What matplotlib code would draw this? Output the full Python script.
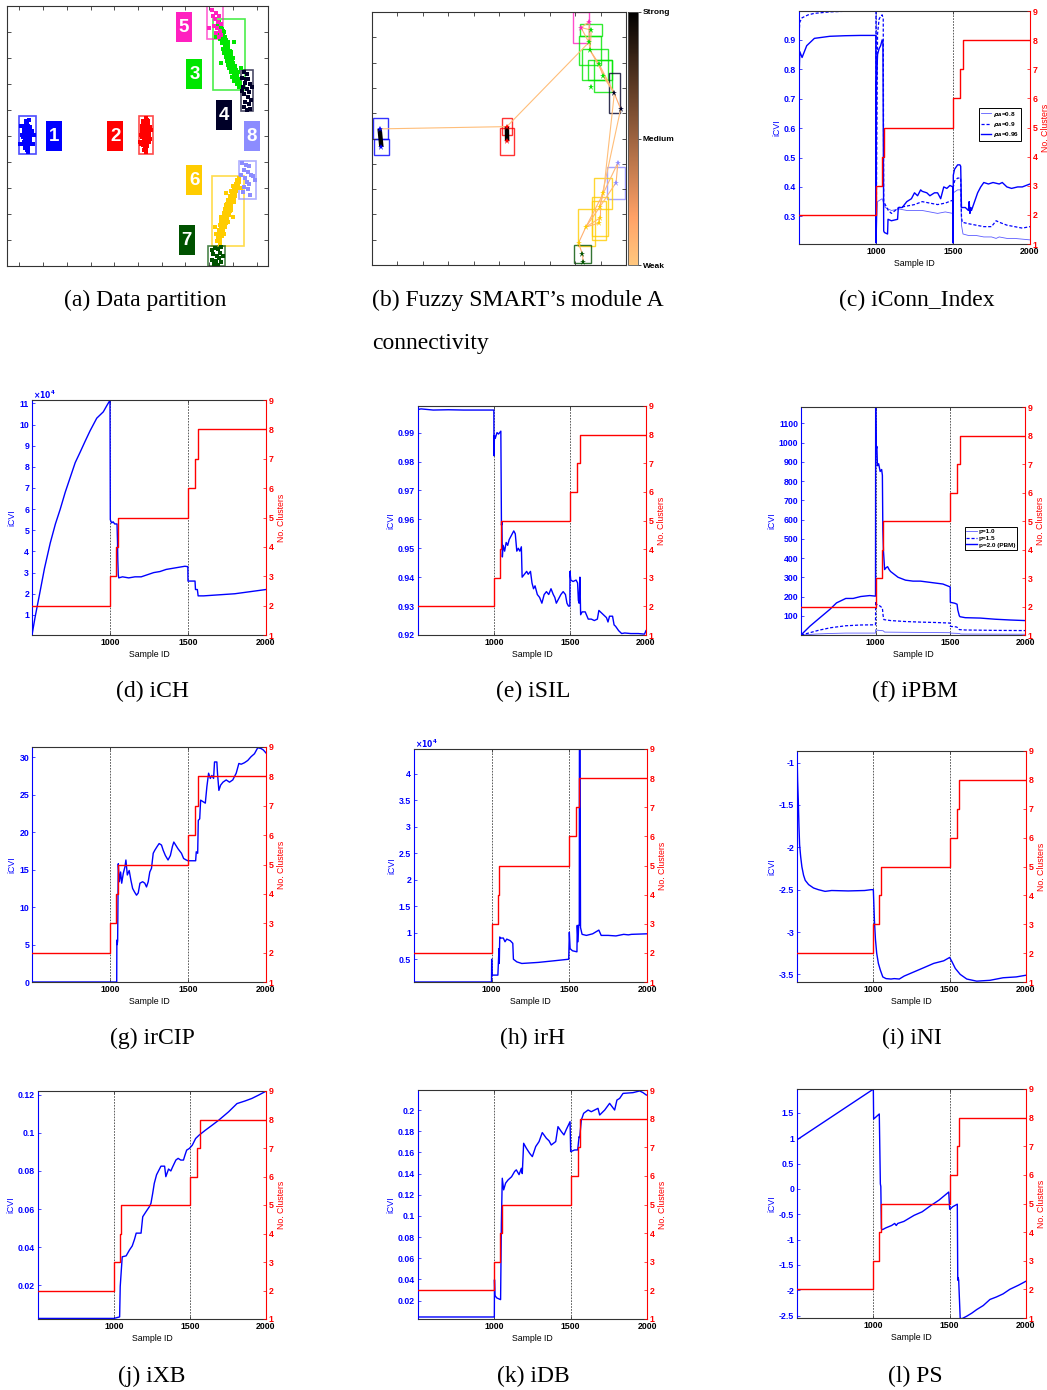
import numpy as np
import matplotlib
matplotlib.use('Agg')
import matplotlib.pyplot as plt
from matplotlib.patches import Rectangle
from matplotlib.lines import Line2D

W, H = 1047, 1390
plt.rcParams['font.family'] = ['Liberation Sans', 'DejaVu Sans']
plt.rcParams['font.weight'] = 'bold'

BLUE = '#0000ff'
RED = '#ff0000'
EDGE = '#333333'

# ---------------- cluster count (shared by every iCVI panel) ----------------
clusters_x = [500, 1000, 1040, 1049, 1500, 1545, 1564, 2000]
clusters_n = [2, 3, 4, 5, 6, 7, 8, 8]

# ---------------- (a) data partition ----------------
pts_c1 = [(0.030, 0.500), (0.036, 0.515), (0.024, 0.488), (0.041, 0.506), (0.028, 0.530),
          (0.033, 0.472), (0.019, 0.512), (0.045, 0.494), (0.038, 0.540), (0.026, 0.460),
          (0.031, 0.522), (0.022, 0.538), (0.043, 0.520), (0.035, 0.480), (0.029, 0.548),
          (0.016, 0.495), (0.048, 0.508), (0.033, 0.458), (0.025, 0.504), (0.039, 0.468),
          (0.027, 0.476), (0.034, 0.552), (0.021, 0.526), (0.044, 0.478), (0.031, 0.490),
          (0.037, 0.492), (0.018, 0.478), (0.028, 0.512), (0.040, 0.530), (0.023, 0.500),
          (0.035, 0.500), (0.030, 0.465), (0.046, 0.535), (0.020, 0.470), (0.032, 0.530),
          (0.038, 0.455), (0.012, 0.505), (0.052, 0.520), (0.027, 0.545), (0.034, 0.448),
          (0.008, 0.540), (0.058, 0.470), (0.040, 0.560), (0.024, 0.452), (0.030, 0.556),
          (0.062, 0.505), (0.004, 0.470), (0.036, 0.440)]
pts_c2 = [(0.532, 0.505), (0.526, 0.520), (0.540, 0.490), (0.520, 0.510), (0.536, 0.535),
          (0.529, 0.470), (0.545, 0.515), (0.515, 0.495), (0.533, 0.548), (0.524, 0.480),
          (0.538, 0.462), (0.528, 0.540), (0.548, 0.500), (0.519, 0.528), (0.535, 0.485),
          (0.531, 0.558), (0.542, 0.530), (0.522, 0.465), (0.530, 0.512), (0.537, 0.475),
          (0.525, 0.500), (0.543, 0.545), (0.517, 0.518), (0.534, 0.455), (0.527, 0.492),
          (0.539, 0.502), (0.521, 0.548), (0.546, 0.478), (0.531, 0.525), (0.528, 0.460),
          (0.512, 0.505), (0.552, 0.488), (0.535, 0.568), (0.518, 0.538), (0.541, 0.558),
          (0.508, 0.478), (0.556, 0.522), (0.526, 0.448), (0.534, 0.440), (0.523, 0.556),
          (0.549, 0.535), (0.514, 0.468), (0.533, 0.475), (0.540, 0.560)]
pts_c3 = [(0.838, 0.935), (0.852, 0.928), (0.845, 0.920), (0.848, 0.915), (0.834, 0.918),
          (0.860, 0.905), (0.850, 0.905), (0.858, 0.892), (0.842, 0.898), (0.852, 0.885),
          (0.866, 0.880), (0.846, 0.872), (0.858, 0.878), (0.872, 0.868), (0.862, 0.860),
          (0.856, 0.856), (0.870, 0.850), (0.878, 0.862), (0.866, 0.845), (0.880, 0.838),
          (0.860, 0.835), (0.872, 0.830), (0.886, 0.826), (0.864, 0.818), (0.876, 0.815),
          (0.890, 0.810), (0.870, 0.802), (0.882, 0.800), (0.894, 0.792), (0.874, 0.788),
          (0.886, 0.786), (0.900, 0.780), (0.880, 0.772), (0.892, 0.772), (0.906, 0.768),
          (0.884, 0.760), (0.896, 0.758), (0.912, 0.752), (0.890, 0.745), (0.904, 0.740),
          (0.918, 0.735), (0.898, 0.728), (0.912, 0.725), (0.926, 0.718), (0.906, 0.712),
          (0.920, 0.710), (0.932, 0.704), (0.916, 0.700), (0.830, 0.880), (0.905, 0.860),
          (0.850, 0.780), (0.935, 0.760), (0.842, 0.940), (0.925, 0.690), (0.864, 0.900),
          (0.878, 0.845), (0.892, 0.825), (0.900, 0.800), (0.910, 0.770), (0.922, 0.745),
          (0.844, 0.930), (0.856, 0.912), (0.862, 0.872), (0.874, 0.855), (0.884, 0.812),
          (0.896, 0.792), (0.908, 0.755), (0.918, 0.722), (0.868, 0.828), (0.880, 0.785)]
pts_c4 = [(0.945, 0.745), (0.958, 0.738), (0.940, 0.725), (0.962, 0.718), (0.950, 0.705),
          (0.972, 0.700), (0.944, 0.690), (0.958, 0.680), (0.968, 0.668), (0.948, 0.660),
          (0.962, 0.650), (0.975, 0.640), (0.952, 0.632), (0.966, 0.622), (0.945, 0.612),
          (0.972, 0.605), (0.938, 0.675), (0.980, 0.690), (0.955, 0.720), (0.960, 0.600)]
pts_c5 = [(0.812, 0.985), (0.830, 0.975), (0.842, 0.962), (0.825, 0.950), (0.838, 0.940),
          (0.850, 0.930), (0.820, 0.925), (0.835, 0.915), (0.845, 0.905), (0.828, 0.895),
          (0.852, 0.890), (0.800, 0.915), (0.840, 0.880), (0.818, 0.960)]
pts_c6 = [(0.832, 0.095), (0.846, 0.100), (0.838, 0.112), (0.842, 0.118), (0.856, 0.115),
          (0.830, 0.125), (0.848, 0.130), (0.860, 0.135), (0.840, 0.140), (0.852, 0.148),
          (0.866, 0.150), (0.846, 0.158), (0.858, 0.162), (0.872, 0.165), (0.852, 0.172),
          (0.862, 0.178), (0.876, 0.182), (0.856, 0.188), (0.868, 0.192), (0.882, 0.198),
          (0.862, 0.205), (0.874, 0.210), (0.888, 0.212), (0.868, 0.220), (0.878, 0.225),
          (0.892, 0.230), (0.874, 0.238), (0.884, 0.242), (0.898, 0.246), (0.880, 0.255),
          (0.890, 0.258), (0.904, 0.262), (0.886, 0.270), (0.896, 0.275), (0.910, 0.280),
          (0.894, 0.290), (0.904, 0.295), (0.916, 0.300), (0.900, 0.308), (0.912, 0.315),
          (0.924, 0.322), (0.918, 0.332), (0.826, 0.150), (0.900, 0.190), (0.870, 0.280),
          (0.935, 0.300), (0.845, 0.085), (0.925, 0.340), (0.850, 0.190), (0.864, 0.125),
          (0.880, 0.170), (0.894, 0.215), (0.906, 0.245), (0.914, 0.290), (0.870, 0.235),
          (0.836, 0.102), (0.850, 0.140), (0.858, 0.150), (0.866, 0.198), (0.876, 0.205),
          (0.888, 0.235), (0.896, 0.262), (0.908, 0.270), (0.920, 0.308), (0.840, 0.128)]
pts_c7 = [(0.810, 0.060), (0.825, 0.070), (0.838, 0.065), (0.850, 0.072), (0.818, 0.045),
          (0.832, 0.040), (0.845, 0.050), (0.858, 0.040), (0.812, 0.025), (0.828, 0.020),
          (0.840, 0.030), (0.852, 0.015), (0.822, 0.008), (0.836, 0.005)]
pts_c8 = [(0.940, 0.395), (0.955, 0.390), (0.968, 0.385), (0.945, 0.370), (0.962, 0.360),
          (0.975, 0.350), (0.950, 0.340), (0.985, 0.345), (0.958, 0.325), (0.970, 0.315),
          (0.948, 0.305), (0.965, 0.295), (0.942, 0.285), (0.972, 0.275), (0.995, 0.330),
          (0.935, 0.350)]
cluster_colors = ['#0000ff', '#ff0000', '#00e600', '#000028', '#ff20c0', '#ffcc00', '#005200', '#8c8cff']
cluster_boxes = [(0.000, 0.429, 0.071, 0.577), (0.503, 0.431, 0.564, 0.578),
                 (0.816, 0.678, 0.951, 0.949), (0.933, 0.596, 0.985, 0.753),
                 (0.790, 0.872, 0.858, 0.999), (0.812, 0.077, 0.947, 0.345),
                 (0.795, 0.001, 0.867, 0.077), (0.927, 0.258, 0.999, 0.405)]
label_centres = [(0.1465, 0.499), (0.4035, 0.499), (0.7375, 0.737), (0.861, 0.5795),
                 (0.6925, 0.918), (0.7375, 0.3305), (0.705, 0.0985), (0.9795, 0.499)]

# ---------------- (b) module A connectivity ----------------
b_boxes = [(0.003, 0.497, 0.062, 0.580, 0), (0.007, 0.433, 0.068, 0.497, 0),
           (0.510, 0.515, 0.551, 0.582, 1), (0.505, 0.435, 0.561, 0.542, 1),
           (0.791, 0.877, 0.854, 1.000, 4), (0.820, 0.904, 0.905, 0.952, 2),
           (0.816, 0.792, 0.903, 0.905, 2), (0.825, 0.731, 0.930, 0.854, 2),
           (0.850, 0.732, 0.946, 0.811, 2), (0.875, 0.683, 0.946, 0.810, 2),
           (0.932, 0.599, 0.978, 0.757, 3), (0.926, 0.260, 0.997, 0.389, 7),
           (0.875, 0.220, 0.946, 0.344, 5), (0.866, 0.115, 0.928, 0.268, 5),
           (0.865, 0.099, 0.922, 0.252, 5), (0.812, 0.077, 0.876, 0.220, 5),
           (0.794, 0.007, 0.863, 0.078, 6)]
b_star_x = [0.030, 0.037, 0.531, 0.532, 0.823, 0.855, 0.863, 0.854, 0.859, 0.894,
            0.909, 0.863, 0.954, 0.979, 0.968, 0.961, 0.911, 0.896, 0.896, 0.895,
            0.842, 0.813, 0.828, 0.832]
b_star_y = [0.538, 0.466, 0.547, 0.489, 0.938, 0.962, 0.929, 0.880, 0.848, 0.794,
            0.748, 0.704, 0.678, 0.617, 0.404, 0.326, 0.284, 0.228, 0.185, 0.166,
            0.150, 0.087, 0.044, 0.011]
b_star_cluster = [0, 0, 1, 1, 4, 4, 2, 2, 2, 2, 2, 2, 3, 3, 7, 7, 5, 5, 5, 5, 5, 5, 6, 6]
b_edges = [(0, 1, 1.0), (2, 3, 1.0), (0, 2, 0.05), (2, 7, 0.05),
           (4, 5, 0.10), (4, 6, 0.10), (4, 7, 0.10), (5, 7, 0.10), (6, 8, 0.10),
           (7, 8, 0.10), (8, 9, 0.15), (9, 10, 0.12), (8, 12, 0.10), (10, 12, 0.10),
           (12, 13, 0.15), (9, 12, 0.08), (12, 16, 0.05), (13, 17, 0.05),
           (14, 16, 0.08), (14, 15, 0.10), (15, 17, 0.08), (16, 17, 0.10),
           (17, 18, 0.10), (18, 19, 0.10), (16, 20, 0.10), (19, 20, 0.10),
           (17, 20, 0.10), (20, 21, 0.12), (21, 22, 0.15), (22, 23, 0.15), (18, 20, 0.08)]

# ---------------- (c) iConn_Index ----------------
conn96_x = [500, 502, 505, 520, 550, 600, 700, 800, 900, 999,
            1000, 1003, 1010, 1020, 1030, 1040, 1045, 1050, 1055, 1075,
            1078, 1100, 1140, 1145, 1170, 1200, 1230, 1250, 1270, 1290,
            1300, 1330, 1350, 1380, 1400, 1420, 1440, 1460, 1480, 1499,
            1500, 1502, 1510, 1530, 1545, 1550, 1555, 1580, 1600, 1605,
            1610, 1615, 1620, 1640, 1660, 1680, 1700, 1730, 1760, 1800,
            1820, 1850, 1880, 1920, 1950, 2000]
conn96_y = [0.21, 0.80, 0.86, 0.84, 0.88, 0.905, 0.912, 0.914, 0.915, 0.915,
            0.21, 0.75, 0.85, 0.87, 0.88, 0.90, 0.89, 0.25, 0.245, 0.24,
            0.29, 0.285, 0.29, 0.33, 0.33, 0.35, 0.36, 0.38, 0.37, 0.39,
            0.385, 0.38, 0.37, 0.38, 0.38, 0.36, 0.40, 0.395, 0.405, 0.40,
            0.21, 0.44, 0.46, 0.475, 0.475, 0.47, 0.33, 0.33, 0.32, 0.35,
            0.31, 0.33, 0.32, 0.35, 0.38, 0.40, 0.415, 0.41, 0.415, 0.41,
            0.415, 0.40, 0.395, 0.40, 0.40, 0.41]
conn90_x = [500, 502, 505, 520, 560, 600, 700, 800, 1000, 1001,
            1010, 1020, 1030, 1040, 1047, 1050, 1060, 1080, 1100, 1150,
            1200, 1250, 1300, 1350, 1400, 1450, 1499, 1500, 1502, 1510,
            1530, 1550, 1555, 1560, 1600, 1650, 1700, 1750, 1780, 1800,
            1850, 1900, 1950, 2000]
conn90_y = [0.21, 0.93, 0.96, 0.975, 0.985, 0.99, 0.995, 0.997, 0.997, 0.21,
            0.92, 0.97, 0.98, 0.985, 0.97, 0.35, 0.34, 0.32, 0.31, 0.33,
            0.335, 0.34, 0.35, 0.345, 0.34, 0.345, 0.355, 0.21, 0.40, 0.42,
            0.43, 0.43, 0.30, 0.28, 0.275, 0.27, 0.265, 0.265, 0.285, 0.28,
            0.27, 0.265, 0.26, 0.265]
conn80_x = [500, 502, 1000, 1001, 1010, 1040, 1050, 1060, 1100, 1150,
            1200, 1300, 1400, 1450, 1499, 1500, 1502, 1530, 1550, 1555,
            1565, 1600, 1650, 1700, 1750, 1780, 1800, 1850, 1900, 2000]
conn80_y = [0.21, 0.997, 0.997, 0.21, 0.35, 0.36, 0.345, 0.33, 0.32, 0.325,
            0.32, 0.32, 0.31, 0.315, 0.31, 0.21, 0.38, 0.39, 0.39, 0.27,
            0.24, 0.235, 0.235, 0.23, 0.23, 0.225, 0.23, 0.225, 0.225, 0.22]

# ---------------- (d) iCH (x10^4) ----------------
ch_x = [500, 520, 549, 580, 617, 650, 681, 713, 745, 777,
        809, 840, 872, 915, 957, 980, 1000, 1002, 1010, 1020,
        1030, 1045, 1048, 1050, 1053, 1056, 1080, 1120, 1160, 1200,
        1240, 1280, 1320, 1360, 1400, 1440, 1480, 1499, 1500, 1545,
        1548, 1560, 1565, 1600, 1700, 1800, 1900, 2000]
ch_y = [0.05, 0.9, 2.0, 3.2, 4.4, 5.3, 6.0, 6.8, 7.5, 8.2,
        8.7, 9.2, 9.7, 10.3, 10.6, 10.9, 11.15, 5.5, 5.35, 5.4,
        5.3, 5.3, 4.5, 3.6, 2.9, 2.75, 2.8, 2.75, 2.8, 2.8,
        2.9, 3.0, 3.05, 3.15, 3.2, 3.25, 3.3, 3.28, 2.6, 2.6,
        2.2, 2.2, 1.9, 1.9, 1.95, 2.0, 2.1, 2.2]

# ---------------- (e) iSIL ----------------
sil_x = [500, 501, 520, 600, 700, 800, 900, 999, 1000, 1003,
         1008, 1020, 1030, 1045, 1049, 1052, 1055, 1060, 1070, 1080,
         1090, 1100, 1110, 1120, 1130, 1140, 1150, 1160, 1170, 1180,
         1185, 1200, 1215, 1225, 1240, 1250, 1260, 1270, 1285, 1300,
         1315, 1330, 1345, 1360, 1375, 1390, 1400, 1410, 1420, 1440,
         1455, 1470, 1480, 1490, 1499, 1500, 1505, 1520, 1540, 1550,
         1555, 1560, 1565, 1570, 1580, 1600, 1620, 1640, 1660, 1680,
         1690, 1700, 1720, 1740, 1750, 1760, 1780, 1790, 1800, 1820,
         1840, 1860, 1900, 1950, 1990, 2000]
sil_y = [0.920, 0.998, 0.9982, 0.9978, 0.9979, 0.9978, 0.9978, 0.9978, 0.982, 0.989,
         0.988, 0.990, 0.9895, 0.9905, 0.958, 0.959, 0.947, 0.951, 0.949, 0.952,
         0.951, 0.953, 0.954, 0.955, 0.956, 0.955, 0.949, 0.950, 0.949, 0.9505,
         0.940, 0.941, 0.942, 0.941, 0.942, 0.938, 0.936, 0.937, 0.934, 0.933,
         0.931, 0.934, 0.935, 0.934, 0.936, 0.934, 0.933, 0.931, 0.932, 0.934,
         0.935, 0.934, 0.931, 0.930, 0.930, 0.942, 0.939, 0.9385, 0.939, 0.938,
         0.932, 0.931, 0.940, 0.927, 0.928, 0.928, 0.9255, 0.9255, 0.925, 0.9255,
         0.9285, 0.928, 0.927, 0.926, 0.9245, 0.9265, 0.9265, 0.9235, 0.923, 0.9215,
         0.9205, 0.9207, 0.9205, 0.9205, 0.9203, 0.9215]

# ---------------- (f) iPBM ----------------
pbm20_x = [500, 560, 627, 693, 738, 800, 849, 900, 960, 999,
           1000, 1003, 1008, 1012, 1020, 1030, 1040, 1045, 1048, 1052,
           1060, 1070, 1080, 1090, 1100, 1150, 1200, 1250, 1300, 1350,
           1400, 1450, 1499, 1500, 1530, 1545, 1550, 1560, 1565, 1600,
           1700, 1800, 1900, 2000]
pbm20_y = [0, 46, 90, 133, 167, 190, 190, 200, 205, 202,
           1180, 960, 980, 880, 890, 850, 860, 830, 550, 440,
           340, 350, 355, 340, 330, 300, 285, 280, 280, 275,
           270, 265, 250, 170, 165, 160, 130, 100, 95, 90,
           88, 82, 78, 75]
pbm15_x = [500, 560, 620, 700, 800, 900, 999, 1000, 1005, 1030,
           1045, 1050, 1055, 1100, 1200, 1300, 1400, 1499, 1500, 1540,
           1550, 1560, 1600, 1800, 2000]
pbm15_y = [0, 12, 25, 38, 48, 52, 53, 175, 160, 150,
           140, 100, 80, 75, 70, 67, 65, 62, 45, 42,
           38, 28, 26, 24, 23]
pbm10_x = [500, 600, 700, 800, 999, 1000, 1010, 1050, 1060, 1200, 1499, 1500, 1560, 1570, 2000]
pbm10_y = [0, 5, 8, 10, 10, 28, 25, 22, 15, 14, 12, 10, 8, 5, 4]

# ---------------- (g) irCIP ----------------
cip_x = [500, 1043, 1044, 1046, 1049, 1053, 1060, 1068, 1075, 1085,
         1096, 1102, 1111, 1123, 1134, 1145, 1158, 1170, 1181, 1192,
         1209, 1223, 1234, 1245, 1255, 1266, 1277, 1287, 1302, 1315,
         1330, 1341, 1355, 1372, 1387, 1400, 1409, 1421, 1436, 1458,
         1472, 1489, 1500, 1521, 1549, 1553, 1562, 1566, 1575, 1581,
         1596, 1611, 1621, 1632, 1643, 1653, 1664, 1670, 1685, 1689,
         1698, 1709, 1724, 1745, 1766, 1787, 1809, 1826, 1841, 1862,
         1883, 1904, 1926, 1947, 1968, 1983, 2000]
cip_y = [0.0, 0.0, 5.6, 5.0, 5.5, 15.8, 13.4, 14.7, 13.2, 14.5,
         15.4, 16.3, 14.3, 14.9, 13.6, 12.5, 12.0, 11.6, 11.9, 13.2,
         13.4, 13.2, 12.7, 13.4, 14.7, 15.2, 17.2, 17.6, 18.1, 18.5,
         18.3, 17.6, 16.9, 16.3, 16.9, 18.1, 18.7, 18.3, 17.8, 17.2,
         16.5, 16.3, 16.2, 16.2, 16.2, 17.4, 17.2, 21.6, 21.8, 24.3,
         24.1, 23.9, 26.1, 27.9, 27.2, 27.6, 27.2, 29.4, 29.4, 27.9,
         25.6, 26.3, 26.7, 27.0, 26.7, 27.0, 27.9, 29.2, 29.1, 29.3,
         29.6, 30.1, 30.5, 31.3, 31.2, 31.0, 30.6]

# ---------------- (h) irH (x10^4) ----------------
rh_x = [500, 999, 1000, 1002, 1040, 1047, 1049, 1052, 1058, 1075,
        1086, 1097, 1120, 1136, 1140, 1162, 1194, 1300, 1400, 1496,
        1500, 1505, 1520, 1549, 1551, 1556, 1560, 1564, 1565, 1569,
        1572, 1582, 1610, 1650, 1690, 1705, 1750, 1800, 1850, 1880,
        1900, 2000]
rh_y = [0.07, 0.07, 0.50, 0.20, 0.20, 0.70, 0.42, 0.92, 0.90, 0.90,
        0.83, 0.88, 0.85, 0.80, 0.50, 0.45, 0.42, 0.44, 0.47, 0.50,
        1.01, 0.70, 0.66, 0.64, 1.14, 0.83, 1.14, 1.14, 4.60, 4.60,
        1.10, 0.97, 0.95, 0.98, 1.05, 0.95, 0.95, 0.94, 0.97, 0.96,
        0.97, 0.98]

# ---------------- (i) iNI ----------------
ni_x = [500, 504, 509, 513, 517, 524, 532, 543, 554, 576,
        608, 640, 684, 727, 835, 943, 986, 1000, 1007, 1014,
        1022, 1033, 1046, 1062, 1083, 1116, 1137, 1170, 1202, 1267,
        1332, 1396, 1461, 1500, 1515, 1537, 1569, 1612, 1677, 1764,
        1850, 1936, 2000]
ni_y = [-0.86, -1.21, -1.48, -1.76, -1.97, -2.11, -2.23, -2.33, -2.39, -2.44,
        -2.48, -2.50, -2.52, -2.51, -2.515, -2.51, -2.50, -2.50, -2.86, -3.09,
        -3.25, -3.37, -3.45, -3.53, -3.55, -3.555, -3.55, -3.555, -3.52, -3.47,
        -3.42, -3.37, -3.34, -3.30, -3.35, -3.43, -3.50, -3.555, -3.58, -3.57,
        -3.54, -3.53, -3.51]

# ---------------- (j) iXB ----------------
xb_x = [500, 1000, 1037, 1041, 1054, 1080, 1102, 1120, 1135, 1146,
        1178, 1189, 1211, 1233, 1243, 1254, 1265, 1280, 1309, 1333,
        1341, 1359, 1374, 1385, 1407, 1422, 1439, 1457, 1467, 1478,
        1496, 1515, 1537, 1559, 1602, 1646, 1689, 1754, 1809, 1863,
        1907, 1950, 2000]
xb_y = [0.0027, 0.0027, 0.0035, 0.0195, 0.035, 0.0355, 0.0386, 0.0407, 0.0442, 0.0474,
        0.0474, 0.056, 0.0587, 0.0613, 0.063, 0.068, 0.0735, 0.078, 0.0825, 0.0825,
        0.077, 0.081, 0.080, 0.082, 0.0857, 0.0866, 0.0857, 0.0857, 0.0883, 0.0909,
        0.0918, 0.0935, 0.097, 0.0987, 0.1014, 0.104, 0.1066, 0.111, 0.1153, 0.1167,
        0.118, 0.1197, 0.1218]

# ---------------- (k) iDB ----------------
db_x = [500, 1000, 1001, 1004, 1017, 1041, 1046, 1052, 1061, 1074,
        1090, 1113, 1133, 1144, 1162, 1177, 1183, 1192, 1210, 1232,
        1249, 1271, 1293, 1314, 1341, 1358, 1373, 1402, 1417, 1439,
        1456, 1472, 1496, 1500, 1526, 1546, 1555, 1559, 1570, 1585,
        1614, 1635, 1679, 1690, 1723, 1755, 1788, 1803, 1821, 1843,
        1908, 1952, 1974, 1996, 2000]
db_y = [0.0046, 0.0046, 0.0398, 0.0247, 0.0225, 0.021, 0.0916, 0.1356, 0.1246, 0.131,
        0.134, 0.137, 0.142, 0.1435, 0.139, 0.145, 0.140, 0.1686, 0.1639, 0.159,
        0.156, 0.1655, 0.1702, 0.1787, 0.1733, 0.171, 0.167, 0.1702, 0.1843, 0.1796,
        0.1765, 0.1818, 0.189, 0.1607, 0.1623, 0.1623, 0.1749, 0.1740, 0.1906, 0.1969,
        0.2, 0.1984, 0.2016, 0.1953, 0.2, 0.2063, 0.2, 0.2094, 0.211, 0.2157,
        0.2164, 0.218, 0.2164, 0.2141, 0.2141]

# ---------------- (l) PS ----------------
ps_x = [500, 1000, 1002, 1039, 1046, 1049, 1053, 1056, 1062, 1080,
        1120, 1140, 1150, 1160, 1200, 1267, 1320, 1375, 1430, 1494,
        1500, 1502, 1520, 1550, 1553, 1556, 1559, 1569, 1580, 1612,
        1645, 1677, 1720, 1764, 1807, 1850, 1894, 1950, 2000]
ps_y = [0.97, 1.97, 1.38, 1.48, 0.10, 0.05, -0.78, -0.80, -0.80, -0.77,
        -0.72, -0.68, -0.72, -0.68, -0.64, -0.52, -0.45, -0.33, -0.22, -0.06,
        -0.40, -0.40, -0.35, -0.30, -1.80, -1.75, -1.80, -2.55, -2.56, -2.51,
        -2.45, -2.38, -2.30, -2.18, -2.13, -2.07, -1.98, -1.90, -1.82]


fig = plt.figure(figsize=(W / 100, H / 100), dpi=100)


def rect(x0, y0, x1, y1):
    return [x0 / W, 1 - y1 / H, (x1 - x0) / W, (y1 - y0) / H]


def caption(x, y, s, ha='center'):
    fig.text(x / W, 1 - y / H, s, ha=ha, va='center', fontsize=17,
             family='Liberation Serif', weight='normal')


def plain_box(ax):
    ax.set_xticks(np.arange(0.1, 0.95, 0.1))
    ax.set_yticks(np.arange(0.1, 0.95, 0.1))
    ax.tick_params(direction='in', length=3, width=0.6, top=True, right=True,
                   labelbottom=False, labelleft=False, colors=EDGE)
    for s in ax.spines.values():
        s.set_color(EDGE)
        s.set_linewidth(0.8)


def icvi_panel(box, ylim, yticks, curves, legend=None):
    ax = fig.add_axes(rect(*box))
    for v in (1000, 1500):
        ax.axvline(v, color='#444444', ls=(0, (2, 1.5)), lw=0.6)
    for xs, ys, style in curves:
        ax.plot(xs, ys, **style)
    ax.set_xlim(500, 2000)
    ax.set_ylim(*ylim)
    ax.set_xticks([1000, 1500, 2000])
    ax.set_yticks(yticks)
    ax.set_yticklabels(['%g' % t for t in yticks])
    ax.tick_params(direction='in', length=2.5, width=0.5, labelsize=6.3, pad=2, top=True)
    ax.tick_params(axis='y', colors=BLUE)
    ax.spines['left'].set_color(BLUE)
    ax.spines['right'].set_visible(False)
    ax.spines['top'].set_color(EDGE)
    ax.spines['bottom'].set_color(EDGE)
    for s in ax.spines.values():
        s.set_linewidth(0.8)
    ax.set_ylabel('iCVI', color=BLUE, fontsize=6.3, labelpad=2)
    ax.set_xlabel('Sample ID', fontsize=6.3, labelpad=2)

    ax2 = ax.twinx()
    ax2.step(clusters_x, clusters_n, where='post', color=RED, lw=1.0)
    ax2.set_ylim(1, 9)
    ax2.set_yticks(range(1, 10))
    ax2.tick_params(direction='in', length=2.5, width=0.5, labelsize=6.3, pad=2, colors=RED)
    for name in ('left', 'top', 'bottom'):
        ax2.spines[name].set_visible(False)
    ax2.spines['right'].set_color(RED)
    ax2.spines['right'].set_linewidth(0.8)
    ax2.set_ylabel('No. Clusters', color=RED, fontsize=6.3, labelpad=2)

    if legend:
        handles = [Line2D([], [], **style) for _, _, style in curves]
        lg = ax2.legend(handles, legend[0], loc='upper left', bbox_to_anchor=legend[1],
                        fontsize=4.6, fancybox=False, edgecolor='k', framealpha=1,
                        handlelength=1.6, handletextpad=0.3, borderpad=0.3,
                        labelspacing=0.2, borderaxespad=0)
        lg.get_frame().set_linewidth(0.7)
    return ax


solid = dict(color=BLUE, lw=1.0)
dashed = dict(color=BLUE, lw=0.9, ls=(0, (2.5, 1.5)))
faint = dict(color='#5c5cff', lw=0.6)

# (a) data partition
ax = fig.add_axes(rect(7, 6, 268, 266))
for pts, col in zip([pts_c1, pts_c2, pts_c3, pts_c4, pts_c5, pts_c6, pts_c7, pts_c8], cluster_colors):
    xy = np.array(pts)
    ax.plot(xy[:, 0], xy[:, 1], 's', ms=2.7, mew=0, color=col)
for (x0, y0, x1, y1), col in zip(cluster_boxes, cluster_colors):
    ax.add_patch(Rectangle((x0, y0), x1 - x0, y1 - y0, fill=False, ec=col, lw=1.2, alpha=0.7))
for i, ((cx, cy), col) in enumerate(zip(label_centres, cluster_colors)):
    ax.add_patch(Rectangle((cx - 0.0335, cy - 0.0575), 0.067, 0.115, color=col, lw=0))
    ax.text(cx, cy, str(i + 1), color='white', ha='center', va='center', fontsize=13.5)
ax.set_xlim(-0.052, 1.048)
ax.set_ylim(0, 1)
plain_box(ax)
ax.set_xticks(np.arange(0.0, 1.01, 0.1))
caption(145, 300, '(a) Data partition')

# (b) connectivity graph
ax = fig.add_axes(rect(372, 12, 626, 265))
cmap = plt.get_cmap('copper_r')
for x0, y0, x1, y1, k in b_boxes:
    ax.add_patch(Rectangle((x0, y0), x1 - x0, y1 - y0, fill=False,
                           ec=cluster_colors[k], lw=1.0, alpha=0.8))
for i, j, s in b_edges:
    ax.plot([b_star_x[i], b_star_x[j]], [b_star_y[i], b_star_y[j]],
            color=cmap(s), lw=3.2 if s > 0.5 else 0.8, solid_capstyle='butt', zorder=3)
for x, y, k in zip(b_star_x, b_star_y, b_star_cluster):
    ax.plot(x, y, '*', ms=4.5, mew=0, color=cluster_colors[k], zorder=4)
ax.set_xlim(0, 1)
ax.set_ylim(0, 1)
plain_box(ax)
cax = fig.add_axes(rect(628, 12, 638, 265))
sm = plt.cm.ScalarMappable(cmap=cmap, norm=plt.Normalize(0, 1))
cb = fig.colorbar(sm, cax=cax, ticks=[0, 0.5, 1])
cb.ax.set_yticklabels(['Weak', 'Medium', 'Strong'], fontsize=6)
cb.ax.tick_params(length=2, width=0.5, pad=1.5)
cb.outline.set_edgecolor('#555555')
cb.outline.set_linewidth(0.6)
caption(372, 300, '(b) Fuzzy SMART\u2019s module A', ha='left')
caption(372, 343, 'connectivity', ha='left')

# (c) iConn_Index
icvi_panel((799, 11, 1030, 244), (0.206, 0.998), [0.3, 0.4, 0.5, 0.6, 0.7, 0.8, 0.9],
           [(conn80_x, conn80_y, faint), (conn90_x, conn90_y, dashed), (conn96_x, conn96_y, solid)],
           legend=([r'$\rho_A$=0.8', r'$\rho_A$=0.9', r'$\rho_A$=0.96'], (0.78, 0.585)))
caption(917, 300, '(c) iConn_Index')

# (d) iCH
icvi_panel((32, 400, 266, 635), (0.05, 11.16), list(range(1, 12)), [(ch_x, ch_y, solid)])
fig.text(33 / W, 1 - 395 / H, r'$\times10^4$', color=BLUE, fontsize=5.5, va='center')
caption(152, 691, '(d) iCH')

# (e) iSIL
icvi_panel((418, 406, 646, 635), (0.92, 0.9992),
           [0.92, 0.93, 0.94, 0.95, 0.96, 0.97, 0.98, 0.99], [(sil_x, sil_y, solid)])
caption(533, 691, '(e) iSIL')

# (f) iPBM
icvi_panel((801, 407, 1025, 635), (0, 1185), list(range(100, 1101, 100)),
           [(pbm10_x, pbm10_y, faint), (pbm15_x, pbm15_y, dashed), (pbm20_x, pbm20_y, solid)],
           legend=(['p=1.0', 'p=1.5', 'p=2.0 (PBM)'], (0.73, 0.475)))
caption(915, 691, '(f) iPBM')

# (g) irCIP
icvi_panel((32, 747, 266, 982), (0, 31.4), [0, 5, 10, 15, 20, 25, 30], [(cip_x, cip_y, solid)])
caption(152, 1038, '(g) irCIP')

# (h) irH
icvi_panel((414, 749, 647, 982), (0.07, 4.47), [0.5, 1, 1.5, 2, 2.5, 3, 3.5, 4],
           [(rh_x, rh_y, solid)])
fig.text(415 / W, 1 - 744 / H, r'$\times10^4$', color=BLUE, fontsize=5.5, va='center')
caption(533, 1038, '(h) irH')

# (i) iNI
icvi_panel((797, 751, 1026, 982), (-3.59, -0.863), [-3.5, -3, -2.5, -2, -1.5, -1],
           [(ni_x, ni_y, solid)])
caption(912, 1038, '(i) iNI')

# (j) iXB
icvi_panel((38, 1091, 266, 1319), (0.0024, 0.1219), [0.02, 0.04, 0.06, 0.08, 0.1, 0.12],
           [(xb_x, xb_y, solid)])
caption(152, 1376, '(j) iXB')

# (k) iDB
icvi_panel((418, 1090, 647, 1319), (0.0027, 0.2189),
           [0.02, 0.04, 0.06, 0.08, 0.1, 0.12, 0.14, 0.16, 0.18, 0.2], [(db_x, db_y, solid)])
caption(533, 1376, '(k) iDB')

# (l) PS
icvi_panel((797, 1089, 1026, 1318), (-2.546, 1.973), [-2.5, -2, -1.5, -1, -0.5, 0, 0.5, 1, 1.5],
           [(ps_x, ps_y, solid)])
caption(915, 1376, '(l) PS')

fig.savefig('out.png', dpi=100)
